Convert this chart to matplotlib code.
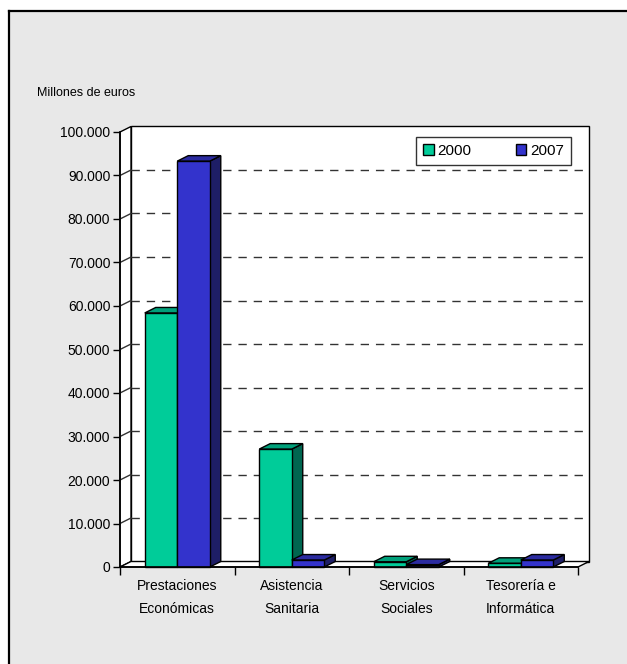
import matplotlib
matplotlib.use("Agg")
import matplotlib.pyplot as plt
from matplotlib.patches import Polygon, Rectangle
from matplotlib.ticker import FuncFormatter

categories = ["Prestaciones\nEconómicas", "Asistencia\nSanitaria", "Servicios\nSociales", "Tesorería e\nInformática"]
series_names = ["2000", "2007"]
values_2000 = [58400, 27100, 1200, 850]
values_2007 = [93300, 1600, 550, 1600]
y_ticks = [0, 10000, 20000, 30000, 40000, 50000, 60000, 70000, 80000, 90000, 100000]

front_colors = ["#00CC99", "#3333CC"]
top_colors = ["#00A07A", "#2B2BA0"]
side_colors = ["#006650", "#1E1E66"]

plt.rcParams['font.family'] = ['Liberation Sans', 'DejaVu Sans']

W, H = 627, 664
fig = plt.figure(figsize=(W / 100, H / 100), dpi=100, facecolor="white")

# outer gray panel
fig.patches.append(Rectangle((8 / W, 0), 1, (H - 11) / H, transform=fig.transFigure,
                             facecolor="#E8E8E8", edgecolor="none", zorder=-5))
fig.lines.append(plt.Line2D([8.5 / W, 8.5 / W], [0, (H - 11) / H], transform=fig.transFigure, color="black", lw=1.6, zorder=-4))
fig.lines.append(plt.Line2D([8.5 / W, 1], [(H - 11) / H, (H - 11) / H], transform=fig.transFigure, color="black", lw=1.6, zorder=-4))

left_px, right_px, top_px, bottom_px = 120, 578, 132, 567
ax = fig.add_axes([left_px / W, (H - bottom_px) / H, (right_px - left_px) / W, (bottom_px - top_px) / H])
ax.set_zorder(1)
ax.set_facecolor("none")
x0, x1 = -0.5, len(categories) - 0.5
ymax = y_ticks[-1]
ax.set_xlim(x0, x1)
ax.set_ylim(0, ymax)

# depth offset in data units
dx = 11 / ((right_px - left_px) / (x1 - x0))
dy = 5.5 * ymax / (bottom_px - top_px)

def poly(pts, fc, z, lw=1.0):
    ax.add_patch(Polygon(pts, closed=True, facecolor=fc, edgecolor="black", lw=lw, zorder=z, clip_on=False, joinstyle="miter"))

# walls and floor
poly([(x0 + dx, dy), (x1 + dx, dy), (x1 + dx, ymax + dy), (x0 + dx, ymax + dy)], "white", 1)
poly([(x0, 0), (x0 + dx, dy), (x0 + dx, ymax + dy), (x0, ymax)], "white", 1)
poly([(x0, 0), (x1, 0), (x1 + dx, dy), (x0 + dx, dy)], "white", 1)

for v in y_ticks[1:-1]:
    ax.plot([x0 + dx, x1 + dx], [v + dy, v + dy], color="#333333", lw=1, ls=(0, (6, 5)), zorder=2, clip_on=False)
    ax.plot([x0, x0 + dx], [v, v + dy], color="#333333", lw=1, zorder=2, clip_on=False)

# bars
bw = 0.284
series = [values_2000, values_2007]
for i in range(len(categories)):
    for j, vals in enumerate(series):
        h = vals[i]
        xa = i - bw + j * bw
        xb = xa + bw
        z = 3 + i * 2 + j * 0.5
        poly([(xb, 0), (xb + dx, dy), (xb + dx, h + dy), (xb, h)], side_colors[j], z)
        poly([(xa, h), (xb, h), (xb + dx, h + dy), (xa + dx, h + dy)], top_colors[j], z)
        ax.add_patch(Rectangle((xa, 0), bw, h, facecolor=front_colors[j], edgecolor="black", lw=1,
                               zorder=z + 0.1, clip_on=False))

# axes
for s in ["top", "right"]:
    ax.spines[s].set_visible(False)
for s in ["left", "bottom"]:
    ax.spines[s].set_color("black")
    ax.spines[s].set_linewidth(1.2)
    ax.spines[s].set_zorder(20)

ax.set_yticks(y_ticks)
ax.yaxis.set_major_formatter(FuncFormatter(lambda v, p: f"{v:,.0f}".replace(",", ".")))
ax.tick_params(axis="y", length=5, width=1, direction="out", labelsize=10, pad=2, colors="black")

ax.set_xticks([x0 + k for k in range(len(categories) + 1)])
ax.set_xticklabels([])
ax.set_xticks(list(range(len(categories))), minor=True)
ax.set_xticklabels(categories, minor=True, fontsize=10, linespacing=1.75)
ax.tick_params(axis="x", which="major", length=6, width=1, direction="out")
ax.tick_params(axis="x", which="minor", length=0, pad=9)

fig.text(37 / W, 1 - 93 / H, "Millones de euros", fontsize=9, ha="left", va="center")

# legend
handles = [Rectangle((0, 0), 1, 1, facecolor=c, edgecolor="black", lw=1) for c in front_colors]
leg = fig.legend(handles, series_names, ncol=2, loc="upper right",
                 bbox_to_anchor=(571 / W, 1 - 137 / H), frameon=True, fancybox=False,
                 edgecolor="black", fontsize=11, handlelength=0.7, handleheight=0.7,
                 handletextpad=0.25, columnspacing=2.9, borderpad=0.45, borderaxespad=0)
leg.get_frame().set_linewidth(1)
leg.get_frame().set_facecolor("white")
leg.set_zorder(30)

fig.savefig("out.png", dpi=100, facecolor="white")
